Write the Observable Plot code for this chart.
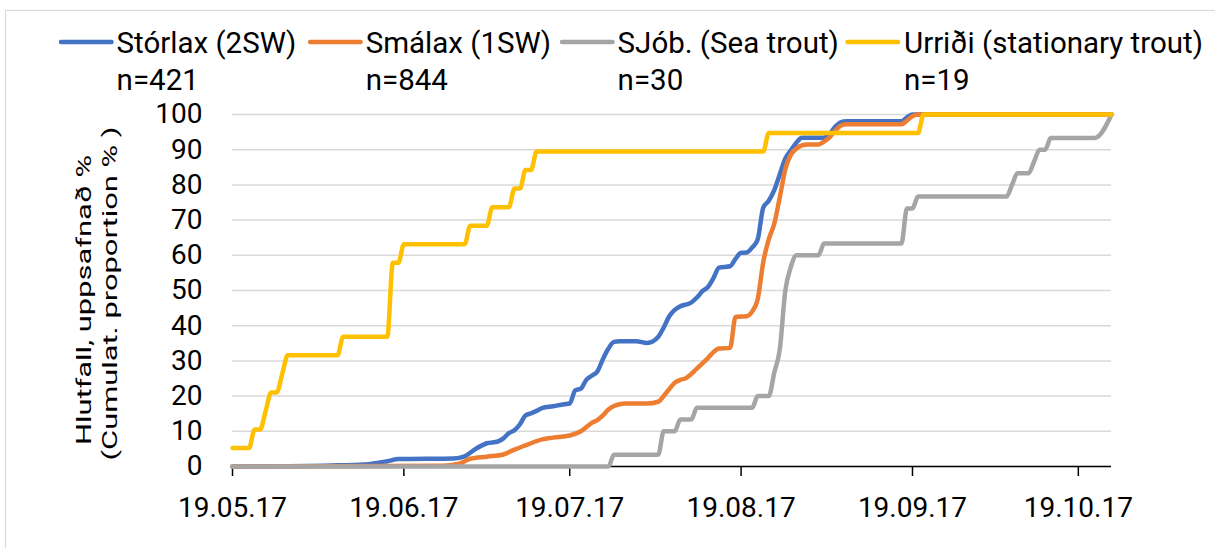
<!DOCTYPE html>
<html>
<head>
<meta charset="utf-8">
<script src="https://cdn.jsdelivr.net/npm/d3@7"></script>
<script src="https://cdn.jsdelivr.net/npm/@observablehq/plot@0.6"></script>
<style>
  html, body { margin: 0; padding: 0; background: #fff; }
  #wrap { position: relative; width: 1215px; height: 548px; overflow: hidden; background: #fff; font-family: Roboto, sans-serif; }
  #wrap > svg { position: absolute; left: 0; top: 0; }
</style>
</head>
<body>
<div id="wrap"></div>
<script>
// ---------- data ----------
const seriesNames = ["Stórlax (2SW)", "Smálax (1SW)", "SJób. (Sea trout)", "Urriði (stationary trout)"];
const seriesCounts = ["n=421", "n=844", "n=30", "n=19"];
const seriesColors = ["#4472C4", "#ED7D31", "#A5A5A5", "#FFC000"];

const yTicks = [0, 10, 20, 30, 40, 50, 60, 70, 80, 90, 100];
const xTicks = ["2017-05-19", "2017-06-19", "2017-07-19", "2017-08-19", "2017-09-19", "2017-10-19"];
const xDomain = ["2017-05-19", "2017-10-25"];
const yTitle = ["Hlutfall, uppsafnað %", "(Cumulat. proportion % )"];

const storlaxDates = ["2017-05-19","2017-06-06","2017-06-12","2017-06-16","2017-06-18","2017-06-28","2017-06-30","2017-07-02","2017-07-04","2017-07-06","2017-07-07","2017-07-08","2017-07-09","2017-07-10","2017-07-11","2017-07-12","2017-07-13","2017-07-14","2017-07-16","2017-07-18","2017-07-19","2017-07-20","2017-07-21","2017-07-22","2017-07-23","2017-07-24","2017-07-25","2017-07-26","2017-07-27","2017-07-28","2017-07-31","2017-08-02","2017-08-03","2017-08-04","2017-08-05","2017-08-06","2017-08-07","2017-08-08","2017-08-10","2017-08-11","2017-08-12","2017-08-13","2017-08-14","2017-08-15","2017-08-17","2017-08-18","2017-08-19","2017-08-20","2017-08-21","2017-08-22","2017-08-23","2017-08-24","2017-08-25","2017-08-26","2017-08-27","2017-08-28","2017-08-29","2017-08-30","2017-09-03","2017-09-04","2017-09-05","2017-09-06","2017-09-07","2017-09-17","2017-09-18","2017-09-19","2017-10-25"];
const storlaxValues = [0,0.3,0.6,1.5,2.1,2.3,2.9,5.0,6.6,7.1,8.0,9.5,10.3,12.0,14.5,15.1,15.8,16.6,17.1,17.7,17.9,21.6,22.1,24.6,25.8,27.0,30.5,33.5,35.4,35.6,35.6,35.1,35.5,36.8,39.5,42.7,44.5,45.5,46.6,48.0,49.8,51.0,53.5,56.5,56.9,59.0,60.7,60.8,62.2,64.5,73.5,75.5,78.5,83.0,87.5,89.8,92.0,93.4,93.4,94.5,96.5,97.8,98.1,98.1,99.2,100,100];

const smalaxDates = ["2017-05-19","2017-06-26","2017-06-29","2017-07-01","2017-07-04","2017-07-07","2017-07-09","2017-07-11","2017-07-14","2017-07-16","2017-07-19","2017-07-21","2017-07-23","2017-07-24","2017-07-25","2017-07-26","2017-07-27","2017-07-28","2017-07-29","2017-08-02","2017-08-04","2017-08-05","2017-08-06","2017-08-07","2017-08-08","2017-08-09","2017-08-11","2017-08-12","2017-08-13","2017-08-14","2017-08-15","2017-08-17","2017-08-18","2017-08-20","2017-08-21","2017-08-22","2017-08-23","2017-08-24","2017-08-25","2017-08-26","2017-08-27","2017-08-28","2017-08-29","2017-08-30","2017-08-31","2017-09-02","2017-09-03","2017-09-04","2017-09-05","2017-09-06","2017-09-07","2017-09-17","2017-09-18","2017-09-19","2017-09-20","2017-10-25"];
const smalaxValues = [0,0.2,0.8,2.2,2.8,3.4,4.8,6.0,7.7,8.2,8.8,10.0,12.4,13.2,14.5,16.2,17.2,17.7,17.9,17.9,18.4,20.0,22.0,23.8,24.6,25.1,27.8,29.3,30.8,32.5,33.5,33.7,42.5,42.7,44.0,47.5,58.0,64.5,69.0,76.5,84.5,88.6,90.3,91.2,91.5,91.5,92.3,93.5,95.3,96.8,97.2,97.2,98.3,99.5,100,100];

const sjobDates = ["2017-05-19","2017-07-26","2017-07-27","2017-08-04","2017-08-05","2017-08-07","2017-08-08","2017-08-10","2017-08-11","2017-08-21","2017-08-22","2017-08-24","2017-08-25","2017-08-26","2017-08-27","2017-08-28","2017-08-29","2017-09-02","2017-09-03","2017-09-17","2017-09-18","2017-09-19","2017-09-20","2017-10-06","2017-10-07","2017-10-08","2017-10-10","2017-10-11","2017-10-12","2017-10-13","2017-10-14","2017-10-22","2017-10-25"];
const sjobValues = [0,0,3.33,3.33,10,10,13.33,13.33,16.67,16.67,20,20,26.67,33.33,50,56.67,60,60,63.33,63.33,73.33,73.33,76.67,76.67,80,83.33,83.33,86.67,90,90,93.33,93.33,100];

const urridiDates = ["2017-05-19","2017-05-22","2017-05-23","2017-05-24","2017-05-25","2017-05-26","2017-05-27","2017-05-28","2017-05-29","2017-06-07","2017-06-08","2017-06-16","2017-06-17","2017-06-18","2017-06-19","2017-06-30","2017-07-01","2017-07-04","2017-07-05","2017-07-08","2017-07-09","2017-07-10","2017-07-11","2017-07-12","2017-07-13","2017-08-23","2017-08-24","2017-09-20","2017-09-21","2017-10-25"];
const urridiValues = [5.26,5.26,10.53,10.53,15.79,21.05,21.05,26.32,31.58,31.58,36.84,36.84,57.89,57.89,63.16,63.16,68.42,68.42,73.68,73.68,78.95,78.95,84.21,84.21,89.47,89.47,94.74,94.74,100,100];

// ---------- build ----------
const parse = d3.utcParse("%Y-%m-%d");
const seriesDates = [storlaxDates, smalaxDates, sjobDates, urridiDates];
const seriesValues = [storlaxValues, smalaxValues, sjobValues, urridiValues];
const tables = seriesDates.map((ds, s) => ds.map((d, i) => ({series: seriesNames[s], date: parse(d), value: seriesValues[s][i]})));

const W = 1215, H = 548;
const chart = Plot.plot({
  width: W, height: H,
  marginLeft: 232, marginRight: 104, marginTop: 114, marginBottom: 82,
  style: {fontFamily: "Roboto, sans-serif", fontSize: "28px", color: "#000", background: "transparent", overflow: "visible"},
  x: {type: "utc", domain: xDomain.map(parse)},
  y: {domain: [0, 100]},
  marks: [
    Plot.gridY(yTicks, {stroke: "#d9d9d9", strokeOpacity: 1, strokeWidth: 1.5}),
    Plot.axisY(yTicks, {tickSize: 0, tickPadding: 30, label: null, fill: "#000"}),
    Plot.ruleY([0], {stroke: "#000", strokeWidth: 1.5}),
    Plot.axisX(xTicks.map(parse), {tickSize: 10, tickPadding: 21, label: null, tickFormat: d3.utcFormat("%d.%m.%y"), stroke: "#000", strokeWidth: 1.5, fill: "#000"}),
    ...tables.map((t, s) => Plot.line(t, {x: "date", y: "value", stroke: seriesColors[s], strokeWidth: 4.5, curve: "monotone-x", strokeLinejoin: "round", strokeLinecap: "round"}))
  ]
});
const wrap = document.getElementById("wrap");
wrap.appendChild(chart);

// ---------- overlay: frame, legend, y title ----------
const ov = d3.select(wrap).append("svg").attr("width", W).attr("height", H)
  .style("font-family", "Roboto, sans-serif");
ov.append("rect").attr("x", 5.5).attr("y", 10.5).attr("width", 1300).attr("height", 700)
  .attr("fill", "none").attr("stroke", "#d9d9d9").attr("stroke-width", 1.2);

const swatchLeft = [58.5, 307.6, 559.5, 845];
const textLeft = [116.6, 365.7, 617.6, 904];
seriesNames.forEach((name, s) => {
  ov.append("line").attr("x1", swatchLeft[s] + 2.5).attr("x2", swatchLeft[s] + 53).attr("y1", 42).attr("y2", 42)
    .attr("stroke", seriesColors[s]).attr("stroke-width", 4.5).attr("stroke-linecap", "round");
  ov.append("text").attr("x", textLeft[s]).attr("y", 53).attr("font-size", 29.5).attr("fill", "#000").text(name);
  ov.append("text").attr("x", textLeft[s]).attr("y", 90).attr("font-size", 29.5).attr("fill", "#000").text(seriesCounts[s]);
});

const titlePos = [[91, 300], [117, 293.5]];
yTitle.forEach((t, i) => {
  ov.append("text")
    .attr("transform", `translate(${titlePos[i][0]},${titlePos[i][1]}) rotate(-90) scale(1.47,1)`)
    .attr("text-anchor", "middle").attr("font-size", 21).attr("fill", "#000").text(t);
});
</script>
</body>
</html>
